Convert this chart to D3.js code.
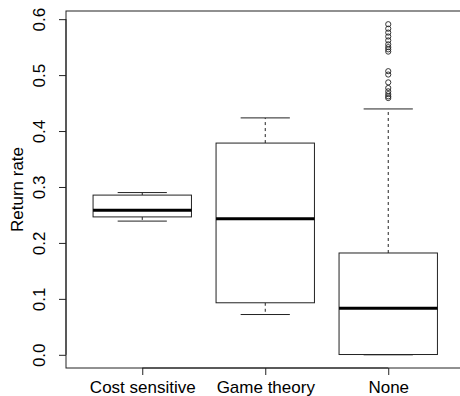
<!DOCTYPE html>
<html>
<head>
<meta charset="utf-8">
<script src="https://cdn.jsdelivr.net/npm/d3@7"></script>
<style>
  body { margin: 0; background: #fff; }
  text { font-family: "Liberation Sans", Arial, sans-serif; }
</style>
</head>
<body>
<script>
// box plot of return rate per method

const categories = ["Cost sensitive", "Game theory", "None"];
const lowerWhisker = [0.239, 0.072, 0.000];
const q1 = [0.2465, 0.093, 0.0005];
const median = [0.2585, 0.243, 0.083];
const q3 = [0.2855, 0.3785, 0.182];
const upperWhisker = [0.290, 0.4235, 0.4395];
const outliersNone = [0.591, 0.583, 0.576, 0.569, 0.562, 0.555, 0.550, 0.546, 0.542,
                      0.507, 0.501, 0.487, 0.477, 0.471, 0.466, 0.462, 0.459];
const yTicks = [0, 0.1, 0.2, 0.3, 0.4, 0.5, 0.6];

const w = 460;
const h = 396;
const frame = {left: 66, top: 11, right: 464.5, bottom: 368};

const xScale = d3.scaleLinear()
    .domain([0.38, 3.62])
    .range([frame.left, frame.right]);

const yScale = d3.scaleLinear()
    .domain([-0.0236, 0.6146])
    .range([frame.bottom, frame.top]);

const boxW = xScale(1.4) - xScale(1);      // half of box width (boxwex 0.8)
const stapleW = boxW / 2;

const svg = d3.select("body")
  .append("svg")
    .attr("width", w)
    .attr("height", h);

const ink = "#222";

// boxes
const boxes = svg.append("g").attr("id", "plot")
  .selectAll("g")
  .data(categories.map((c, i) => ({
      c, pos: i + 1, lo: lowerWhisker[i], q1: q1[i], med: median[i], q3: q3[i], hi: upperWhisker[i]
  })))
  .enter().append("g");

// whiskers
boxes.append("line")
    .attr("x1", d => xScale(d.pos)).attr("x2", d => xScale(d.pos))
    .attr("y1", d => yScale(d.q3)).attr("y2", d => yScale(d.hi))
    .attr("stroke", ink).attr("stroke-dasharray", "3,3");

boxes.append("line")
    .attr("x1", d => xScale(d.pos)).attr("x2", d => xScale(d.pos))
    .attr("y1", d => yScale(d.q1)).attr("y2", d => yScale(d.lo))
    .attr("stroke", ink).attr("stroke-dasharray", "3,3");

// staples
boxes.append("line")
    .attr("x1", d => xScale(d.pos) - stapleW).attr("x2", d => xScale(d.pos) + stapleW)
    .attr("y1", d => yScale(d.hi)).attr("y2", d => yScale(d.hi))
    .attr("stroke", ink);

boxes.append("line")
    .attr("x1", d => xScale(d.pos) - stapleW).attr("x2", d => xScale(d.pos) + stapleW)
    .attr("y1", d => yScale(d.lo)).attr("y2", d => yScale(d.lo))
    .attr("stroke", ink);

boxes.append("rect")
    .attr("x", d => xScale(d.pos) - boxW)
    .attr("y", d => yScale(d.q3))
    .attr("width", 2 * boxW)
    .attr("height", d => yScale(d.q1) - yScale(d.q3))
    .attr("fill", "white")
    .attr("stroke", ink);

boxes.append("line")
    .attr("x1", d => xScale(d.pos) - boxW).attr("x2", d => xScale(d.pos) + boxW)
    .attr("y1", d => yScale(d.med)).attr("y2", d => yScale(d.med))
    .attr("stroke", "black").attr("stroke-width", 3);

// outliers
svg.append("g")
  .selectAll("circle")
  .data(outliersNone)
  .enter().append("circle")
    .attr("cx", xScale(3))
    .attr("cy", d => yScale(d))
    .attr("r", 2.6)
    .attr("fill", "none")
    .attr("stroke", ink)
    .attr("stroke-width", 0.9);

// frame
svg.append("rect")
    .attr("x", frame.left)
    .attr("y", frame.top)
    .attr("width", frame.right - frame.left)
    .attr("height", frame.bottom - frame.top)
    .attr("fill", "none")
    .attr("stroke", ink);

// axes
const yAxis = d3.axisLeft(yScale)
    .tickValues(yTicks)
    .tickFormat(d3.format(".1f"))
    .tickSize(7)
    .tickSizeOuter(0);

const yG = svg.append("g")
    .attr("transform", `translate(${frame.left},0)`)
    .call(yAxis);
yG.select(".domain")
    .attr("d", `M0,${yScale(0)}V${yScale(0.6)}`)
    .attr("stroke", ink);
yG.selectAll(".tick line").attr("stroke", ink);
yG.selectAll(".tick text")
    .attr("x", null).attr("dy", null)
    .attr("text-anchor", "middle")
    .attr("transform", "translate(-21,0) rotate(-90)")
    .attr("font-size", 17)
    .attr("font-family", "Liberation Sans, Arial, sans-serif")
    .attr("fill", "black");

const xAxis = d3.axisBottom(xScale)
    .tickValues([1, 2, 3])
    .tickFormat(d => categories[d - 1])
    .tickSize(7)
    .tickSizeOuter(0);

const xG = svg.append("g")
    .attr("transform", `translate(0,${frame.bottom})`)
    .call(xAxis);
xG.select(".domain")
    .attr("d", `M${xScale(1)},0H${xScale(3)}`)
    .attr("stroke", ink);
xG.selectAll(".tick line").attr("stroke", ink);
xG.selectAll(".tick text")
    .attr("y", 25).attr("dy", null)
    .attr("font-size", 17)
    .attr("font-family", "Liberation Sans, Arial, sans-serif")
    .attr("fill", "black");

// y title
svg.append("text")
    .attr("transform", `translate(23,${(frame.top + frame.bottom) / 2}) rotate(-90)`)
    .attr("text-anchor", "middle")
    .attr("font-size", 17)
    .text("Return rate");
</script>
</body>
</html>
